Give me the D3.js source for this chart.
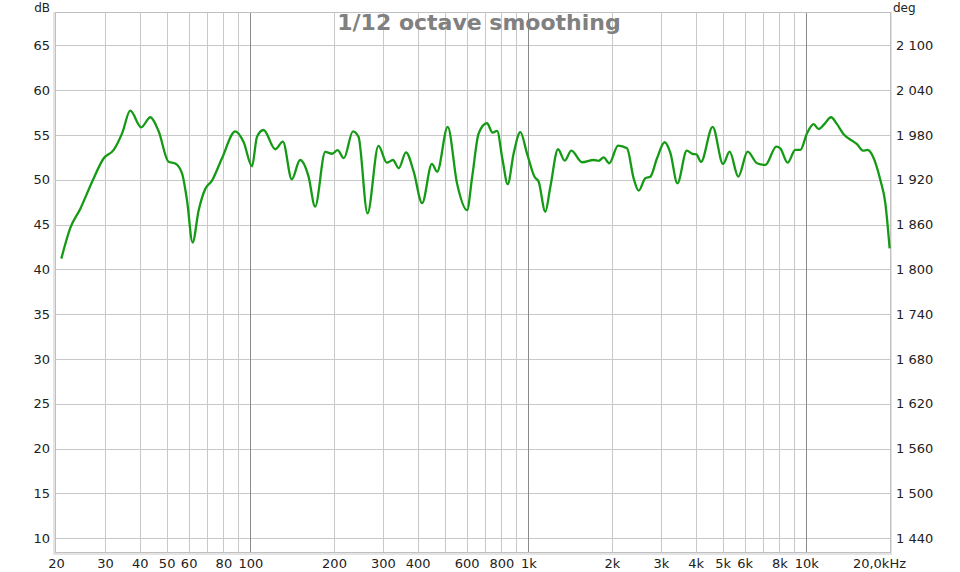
<!DOCTYPE html>
<html>
<head>
<meta charset="utf-8">
<script src="https://cdn.jsdelivr.net/npm/d3@7"></script>
<style>
  html, body { margin: 0; padding: 0; background: #fff; }
  svg { display: block; font-family: "DejaVu Sans", sans-serif; }
</style>
</head>
<body>
<svg id="chart" width="960" height="572"></svg>
<script>
// ---- data ----
const freqHz = [20.9, 22.5, 24.5, 27, 29.7, 32.2, 34.6, 37, 40.5, 43.7, 46.8, 50.8, 53.7, 56.8, 59.2, 62, 65.2, 68.9, 72.8, 79.1, 88.3, 94.6, 101.4, 105.7, 111.6,
  123, 131, 141, 151, 162, 171, 186, 197, 206, 217, 234, 245, 264, 289, 310, 326, 342, 363, 387, 415, 450, 470, 513, 554, 602,
  628, 663, 710, 744, 772, 808, 843, 886, 936, 989, 1054, 1089, 1151, 1200, 1279, 1351, 1428, 1561, 1718, 1790, 1866, 1956,
  2102, 2265, 2392, 2494, 2636, 2748, 2904, 3093, 3243, 3438, 3716, 3906, 4021, 4180, 4603, 5017, 5298, 5692, 6150, 6647,
  7121, 7801, 8063, 8564, 9129, 9515, 10060, 10624, 11075, 11605, 12270, 12897, 13620, 14599, 15220, 15993, 16615, 17378,
  18462, 19240, 19942];
const splDb = [41.2, 44.6, 46.8, 49.8, 52.4, 53.3, 55.2, 57.7, 55.85, 56.97, 55.4, 52.0, 51.8, 50.7, 47.7, 43.0, 46.6, 49.0, 49.9, 52.4, 55.4, 54.2, 51.5, 54.8, 55.55,
  53.4, 54.25, 50.05, 52.2, 50.35, 47.0, 53.1, 52.9, 53.3, 52.4, 55.4, 54.8, 46.25, 53.77, 51.9, 52.2, 51.28, 53.06, 50.9, 47.4, 51.76, 50.9, 55.9, 49.6, 46.6,
  50.3, 55.18, 56.3, 55.25, 55.44, 52.2, 49.5, 52.95, 55.3, 52.95, 50.3, 49.8, 46.44, 49.2, 53.4, 52.13, 53.24, 51.95, 52.2, 52.1, 52.5, 51.84,
  53.8, 53.5, 50.16, 48.78, 50.16, 50.34, 52.4, 54.18, 53.0, 49.6, 53.24, 52.87, 52.84, 52.0, 55.9, 51.76, 53.13, 50.35, 53.13, 51.84,
  51.65, 53.7, 53.5, 51.9, 53.32, 53.32, 55.18, 56.2, 55.66, 56.2, 56.97, 56.2, 55.07, 54.36, 53.96, 53.24, 53.32, 52.57,
  49.97, 47.4, 42.35];

const xTickValues = [20, 30, 40, 50, 60, 80, 100, 200, 300, 400, 600, 800, 1000, 2000, 3000, 4000, 5000, 6000, 8000, 10000];
const xTickLabels = ["20", "30", "40", "50", "60", "80", "100", "200", "300", "400", "600", "800", "1k", "2k", "3k", "4k", "5k", "6k", "8k", "10k"];
const xEndLabel = "20,0kHz";
const xGridMinor = [30, 40, 50, 60, 70, 80, 90, 200, 300, 400, 500, 600, 700, 800, 900, 2000, 3000, 4000, 5000, 6000, 7000, 8000, 9000];
const xGridMajor = [100, 1000, 10000];
const yTickValues = [10, 15, 20, 25, 30, 35, 40, 45, 50, 55, 60, 65];
const degTickLabels = ["1 440", "1 500", "1 560", "1 620", "1 680", "1 740", "1 800", "1 860", "1 920", "1 980", "2 040", "2 100"];
const title = "1/12 octave smoothing";

// ---- layout ----
const L = 56, R = 890, T = 13, B = 552;
const svg = d3.select("#chart");

const x = d3.scaleLog().domain([20, 20000]).range([L, R]);
const y = d3.scaleLinear().domain([8.47, 68.6]).range([B, T]);

// frame shadow
svg.append("rect").attr("x", L - 3).attr("y", T - 1).attr("width", R - L + 5).attr("height", B - T + 4)
  .attr("fill", "#e4e4e4");
svg.append("rect").attr("x", L).attr("y", T).attr("width", R - L).attr("height", B - T)
  .attr("fill", "#fff");

// grid
const grid = svg.append("g");
grid.selectAll("line.hy").data(yTickValues).join("line")
  .attr("x1", L).attr("x2", R)
  .attr("y1", d => Math.round(y(d)) + 0.5).attr("y2", d => Math.round(y(d)) + 0.5)
  .attr("stroke", "#c8c8c8").attr("stroke-width", 1);
grid.selectAll("line.vmin").data(xGridMinor).join("line")
  .attr("x1", d => Math.round(x(d)) + 0.5).attr("x2", d => Math.round(x(d)) + 0.5)
  .attr("y1", T).attr("y2", B)
  .attr("stroke", "#c8c8c8").attr("stroke-width", 1);
svg.append("g").selectAll("line").data(xGridMajor).join("line")
  .attr("x1", d => Math.round(x(d)) + 0.5).attr("x2", d => Math.round(x(d)) + 0.5)
  .attr("y1", T).attr("y2", B)
  .attr("stroke", "#8a8a8a").attr("stroke-width", 1);

// frame
svg.append("rect").attr("x", L - 0.5).attr("y", T - 0.5).attr("width", R - L + 1).attr("height", B - T + 1)
  .attr("fill", "none").attr("stroke", "#c0c0c0").attr("stroke-width", 1);

// curve
const pts = freqHz.map((f, i) => [f, splDb[i]]);
const line = d3.line().x(d => x(d[0])).y(d => y(d[1])).curve(d3.curveMonotoneX);
svg.append("path").datum(pts).attr("d", line)
  .attr("fill", "none").attr("stroke", "#159a15").attr("stroke-width", 2.3)
  .attr("stroke-linejoin", "round");

// axes
const fontSize = 13;
const xAxis = d3.axisBottom(x).tickValues(xTickValues)
  .tickFormat((d, i) => xTickLabels[i]).tickSize(0).tickPadding(0);
const gx = svg.append("g").attr("transform", `translate(0,${B})`).call(xAxis);
gx.select(".domain").remove();
gx.selectAll("text").attr("dy", null).attr("y", 16).attr("font-size", fontSize)
  .attr("font-family", "DejaVu Sans").attr("fill", "#222");
svg.append("text").attr("x", 906).attr("y", B + 16).attr("text-anchor", "end")
  .attr("font-size", fontSize).attr("fill", "#222").text(xEndLabel);

const yAxisL = d3.axisLeft(y).tickValues(yTickValues).tickSize(0).tickPadding(0);
const gyl = svg.append("g").attr("transform", `translate(50,0)`).call(yAxisL);
gyl.select(".domain").remove();
gyl.selectAll("text").attr("font-size", fontSize).attr("font-family", "DejaVu Sans").attr("fill", "#222");

const yAxisR = d3.axisRight(y).tickValues(yTickValues)
  .tickFormat((d, i) => degTickLabels[i]).tickSize(0).tickPadding(0);
const gyr = svg.append("g").attr("transform", `translate(896,0)`).call(yAxisR);
gyr.select(".domain").remove();
gyr.selectAll("text").attr("font-size", fontSize).attr("font-family", "DejaVu Sans").attr("fill", "#222");

// unit labels
svg.append("text").attr("x", 50).attr("y", 12).attr("text-anchor", "end")
  .attr("font-size", 12).attr("fill", "#222").text("dB");
svg.append("text").attr("x", 893).attr("y", 12).attr("text-anchor", "start")
  .attr("font-size", 12).attr("fill", "#222").text("deg");

// title
svg.append("text").attr("x", 479).attr("y", 30).attr("text-anchor", "middle")
  .attr("font-size", 22).attr("font-weight", "bold").attr("fill", "#808080").text(title);
</script>
</body>
</html>
